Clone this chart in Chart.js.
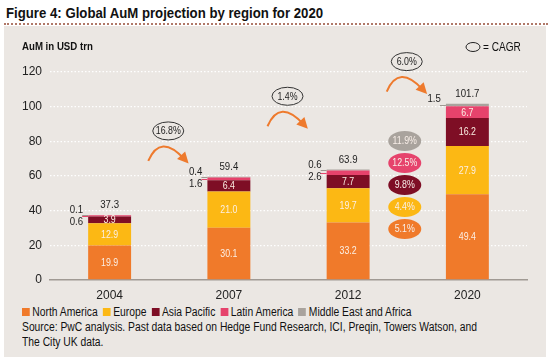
<!DOCTYPE html>
<html>
<head>
<meta charset="utf-8">
<script src="https://cdn.jsdelivr.net/npm/chart.js@4.4.0/dist/chart.umd.min.js"></script>
<style>
  body { margin: 0; width: 550px; height: 362px; background: #fff; overflow: hidden; font-family: "Liberation Sans", Arial, sans-serif; }
  #title { position: absolute; left: 6px; top: 4px; font-size: 15px; font-weight: bold; color: #111; transform: scaleX(0.88); transform-origin: left top; white-space: nowrap; }
  #dots { position: absolute; left: 4px; top: 23px; width: 544px; border-top: 2px dotted #b07868; }
  #panel { position: absolute; left: 4px; top: 26px; width: 542px; height: 331px; background: #ebe7e3; }
  #grafico { position: absolute; left: 0; top: 0; }
  #pie { position: absolute; left: 18px; top: 279px; font-size: 12px; color: #111; line-height: 15px; transform: scaleX(0.86); transform-origin: left top; white-space: nowrap; }
  .sq { display: inline-block; width: 9px; height: 8px; margin-right: 3px; }
  .it { margin-right: 6px; }
</style>
</head>
<body>
<div id="title">Figure 4: Global AuM projection by region for 2020</div>
<div id="dots"></div>
<div id="panel">
  <canvas id="grafico" width="542" height="276"></canvas>
  <div id="pie">
    <div id="leyenda"></div>
    <div>Source: PwC analysis. Past data based on Hedge Fund Research, ICI, Preqin, Towers Watson, and</div>
    <div>The City UK data.</div>
  </div>
</div>
<script>
// Datos

const anios = ["2004", "2007", "2012", "2020"];
const regiones = ["North America", "Europe", "Asia Pacific", "Latin America", "Middle East and Africa"];
const northAmerica = [19.9, 30.1, 33.2, 49.4];
const europe = [12.9, 21.0, 19.7, 27.9];
const asiaPacific = [3.9, 6.4, 7.7, 16.2];
const latinAmerica = [0.6, 1.6, 2.6, 6.7];
const middleEast = [0.1, 0.4, 0.6, 1.5];
const totales = [37.3, 59.4, 63.9, 101.7];
const cagrTotal = ["16.8%", "1.4%", "6.0%"];
const cagrRegion = ["5.1%", "4.4%", "9.8%", "12.5%", "11.9%"]; // 2012-2020, mismo orden que regiones
const colores = ["#f07a2a", "#fcb814", "#7e0e25", "#e6436c", "#a9a39d"];

const series = [northAmerica, europe, asiaPacific, latinAmerica, middleEast];

// Leyenda en HTML

document.getElementById("leyenda").innerHTML = regiones
  .map((r, i) => `<span class="it"><span class="sq" style="background:${colores[i]}"></span>${r}</span>`)
  .join("");

Chart.defaults.font.family = '"Liberation Sans", Arial, sans-serif';

function texto(ctx, t, x, y, align) {
  ctx.save();
  ctx.translate(x, y);
  ctx.scale(0.84, 1);
  ctx.textAlign = align;
  ctx.textBaseline = "middle";
  ctx.fillText(t, 0, 0);
  ctx.restore();
}

function flecha(ctx, cx, cy) {
  const x0 = cx - 20, y0 = cy + 30, x1 = cx + 19, y1 = cy + 31;
  const qx = cx - 8, qy = cy + 2;
  ctx.save();
  ctx.strokeStyle = "#ee7a2d";
  ctx.fillStyle = "#ee7a2d";
  ctx.lineWidth = 2;
  ctx.beginPath();
  ctx.moveTo(x0, y0);
  ctx.quadraticCurveTo(qx, qy, x1 - 3, y1 - 3);
  ctx.stroke();
  const ang = Math.atan2(y1 - qy, x1 - qx);
  ctx.beginPath();
  ctx.moveTo(x1 + 2 * Math.cos(ang), y1 + 2 * Math.sin(ang));
  ctx.lineTo(x1 - 9 * Math.cos(ang) + 5.5 * Math.sin(ang), y1 - 9 * Math.sin(ang) - 5.5 * Math.cos(ang));
  ctx.lineTo(x1 - 9 * Math.cos(ang) - 5.5 * Math.sin(ang), y1 - 9 * Math.sin(ang) + 5.5 * Math.cos(ang));
  ctx.closePath();
  ctx.fill();
  ctx.restore();
}

const etiquetas = {
  id: "etiquetas",
  afterDatasetsDraw(chart) {
    const { ctx, scales } = chart;
    const xs = scales.x, ys = scales.y;

    // valores dentro y fuera de las barras
    for (let i = 0; i < anios.length; i++) {
      const tope = chart.getDatasetMeta(4).data[i].y;
      for (let d = 0; d < series.length; d++) {
        const bar = chart.getDatasetMeta(d).data[i];
        const v = series[d][i];
        const medio = (bar.y + bar.base) / 2;
        const izq = bar.x - bar.width / 2;
        ctx.font = "10.5px " + Chart.defaults.font.family;
        if (v >= 3) {
          ctx.fillStyle = "#fbefe4";
          texto(ctx, v.toFixed(1), bar.x, medio + 0.5, "center");
        } else {
          const ty = d === 4 ? tope - 5 : tope + 7;
          ctx.font = "11.5px " + Chart.defaults.font.family;
          ctx.fillStyle = "#222";
          texto(ctx, v.toFixed(1), izq - 5, ty, "right");
          ctx.strokeStyle = d === 4 ? "#9e9891" : colores[3];
          ctx.lineWidth = 1;
          ctx.beginPath();
          ctx.moveTo(izq - 6, Math.round(medio) + 0.5);
          ctx.lineTo(izq, Math.round(medio) + 0.5);
          ctx.stroke();
        }
      }
      ctx.font = "11.5px " + Chart.defaults.font.family;
      ctx.fillStyle = "#222";
      texto(ctx, totales[i].toFixed(1), chart.getDatasetMeta(0).data[i].x, tope - 10, "center");
    }

    // CAGR totales entre barras
    const altura = [86, 106, 126];
    cagrTotal.forEach((c, k) => {
      const cx = (xs.getPixelForValue(k) + xs.getPixelForValue(k + 1)) / 2 - 1;
      const cy = ys.getPixelForValue(altura[k]);
      ctx.save();
      ctx.strokeStyle = "#333";
      ctx.lineWidth = 1;
      ctx.beginPath();
      ctx.ellipse(cx, cy, 15.5, 9, 0, 0, Math.PI * 2);
      ctx.stroke();
      ctx.restore();
      ctx.font = "10.5px " + Chart.defaults.font.family;
      ctx.fillStyle = "#222";
      texto(ctx, c, cx, cy + 0.5, "center");
      flecha(ctx, cx, cy);
    });

    // CAGR por region 2012-2020
    const rx = (xs.getPixelForValue(2) + xs.getPixelForValue(3)) / 2 - 3;
    cagrRegion.forEach((c, d) => {
      const cy = 203 - d * 22;
      ctx.save();
      ctx.fillStyle = colores[d];
      ctx.beginPath();
      ctx.ellipse(rx, cy, 16.5, 10, 0, 0, Math.PI * 2);
      ctx.fill();
      ctx.restore();
      ctx.font = "10.5px " + Chart.defaults.font.family;
      ctx.fillStyle = "#f8eee8";
      texto(ctx, c, rx, cy + 0.5, "center");
    });

    // titulos del panel
    ctx.font = "bold 11.5px " + Chart.defaults.font.family;
    ctx.fillStyle = "#111";
    texto(ctx, "AuM in USD trn", 18, 21, "left");
    ctx.save();
    ctx.strokeStyle = "#222";
    ctx.lineWidth = 1;
    ctx.beginPath();
    ctx.ellipse(469, 21, 7, 4.5, 0, 0, Math.PI * 2);
    ctx.stroke();
    ctx.restore();
    ctx.font = "12px " + Chart.defaults.font.family;
    texto(ctx, "= CAGR", 479, 21.5, "left");
  },
};

const ctx = document.getElementById("grafico");

const chart = new Chart(ctx, {
  type: "bar",
  data: {
    labels: anios,
    datasets: regiones.map((r, d) => ({
      label: r,
      data: series[d],
      backgroundColor: colores[d],
      borderWidth: 0,
      categoryPercentage: 1,
      barPercentage: 0.36,
    })),
  },
  options: {
    responsive: false,
    animation: false,
    layout: { padding: { top: 46, right: 19, left: 0, bottom: 0 } },
    plugins: { legend: { display: false }, tooltip: { enabled: false } },
    scales: {
      x: {
        stacked: true,
        grid: { display: false, drawTicks: false },
        border: { display: true, color: "#a09a94", width: 1.5 },
        ticks: { color: "#222", font: { size: 12 }, padding: 8 },
        afterFit: (s) => { s.height = 22; },
      },
      y: {
        stacked: true,
        min: 0,
        max: 120,
        ticks: { stepSize: 20, color: "#222", font: { size: 12 }, padding: 8 },
        grid: {
          drawTicks: false,
          color: (c) => (c.tick && c.tick.value === 0 ? "rgba(0,0,0,0)" : "#ffffff"),
          lineWidth: 1.3,
        },
        border: { display: false, dash: [1.5, 2] },
        afterFit: (s) => { s.width = 46; },
      },
    },
  },
  plugins: [etiquetas],
});
</script>
</body>
</html>
